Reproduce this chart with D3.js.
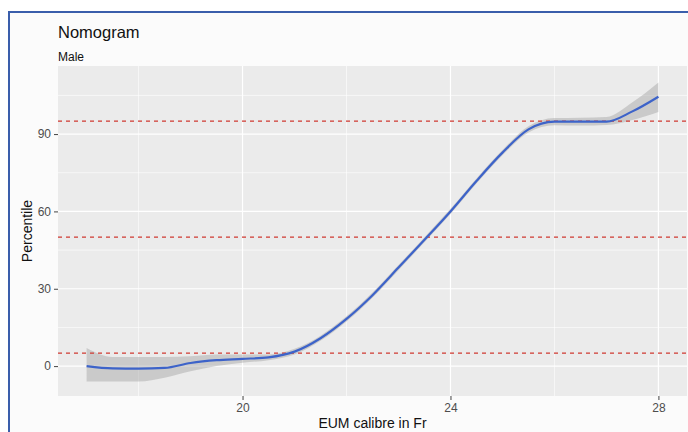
<!DOCTYPE html>
<html>
<head>
<meta charset="utf-8">
<script src="https://cdn.jsdelivr.net/npm/d3@7"></script>
<style>
  body { margin: 0; background: #fff; }
  svg { display: block; font-family: "Liberation Sans", Arial, sans-serif; }
</style>
</head>
<body>
<svg id="chart" width="688" height="432"></svg>
<script>
// catheter calibre (Fr) and loess fit with its confidence band
var calibre = [17, 17.5, 18, 18.5, 19, 19.5, 20, 20.5, 21, 21.5, 22, 22.5, 23, 23.5, 24, 24.5, 25, 25.5, 26, 26.5, 27, 27.5, 28];
var fitted  = [0, -0.9, -1, -0.7, 1.2, 2.3, 2.8, 3.4, 5.6, 10.8, 18.3, 27.5, 38.2, 49, 60, 71.8, 82.8, 91.8, 94.8, 94.8, 94.8, 98.8, 104.5];
var lower   = [-6, -6, -6, -4.5, -2, 0, 1.3, 2.3, 4.5, 9.8, 17.3, 26.5, 37.2, 48, 59, 70.8, 81.8, 90.6, 93.4, 93.3, 93.5, 95.5, 98.6];
var upper   = [7, 3.5, 3.5, 3.5, 3.8, 4.5, 4.5, 4.5, 6.7, 11.8, 19.3, 28.5, 39.2, 50, 61, 72.8, 83.8, 93, 96.2, 96.3, 96.6, 102.3, 110];
var refLines = [5, 50, 95];
var xTicks = [20, 24, 28], xMinor = [18, 22, 26];
var yTicks = [0, 30, 60, 90], yMinor = [15, 45, 75, 105];

var svg = d3.select("#chart");

var panel = {left: 58, top: 66, right: 687, bottom: 396};

var x = d3.scaleLinear().domain([16.45, 28.55]).range([panel.left, panel.right]);
var y = d3.scaleLinear().domain([-11.6, 116.4]).range([panel.bottom, panel.top]);

// figure background with the blue frame of the screenshot
svg.append("rect").attr("x", 9).attr("y", 12).attr("width", 700).attr("height", 440)
  .attr("fill", "#fbfbfb").attr("stroke", "#3a5eab").attr("stroke-width", 2);

svg.append("rect")
  .attr("x", panel.left).attr("y", panel.top)
  .attr("width", panel.right - panel.left).attr("height", panel.bottom - panel.top)
  .attr("fill", "#ebebeb");

var grid = svg.append("g");
grid.selectAll(".xminor").data(xMinor).enter().append("line")
  .attr("x1", d => x(d)).attr("x2", d => x(d))
  .attr("y1", panel.top).attr("y2", panel.bottom)
  .attr("stroke", "#fff").attr("stroke-width", 0.6);
grid.selectAll(".yminor").data(yMinor).enter().append("line")
  .attr("x1", panel.left).attr("x2", panel.right)
  .attr("y1", d => y(d)).attr("y2", d => y(d))
  .attr("stroke", "#fff").attr("stroke-width", 0.6);
grid.selectAll(".xmajor").data(xTicks).enter().append("line")
  .attr("x1", d => x(d)).attr("x2", d => x(d))
  .attr("y1", panel.top).attr("y2", panel.bottom)
  .attr("stroke", "#fff").attr("stroke-width", 1.2);
grid.selectAll(".ymajor").data(yTicks).enter().append("line")
  .attr("x1", panel.left).attr("x2", panel.right)
  .attr("y1", d => y(d)).attr("y2", d => y(d))
  .attr("stroke", "#fff").attr("stroke-width", 1.2);

var data = calibre.map((c, i) => ({x: c, fit: fitted[i], lo: lower[i], hi: upper[i]}));

var band = d3.area()
  .curve(d3.curveMonotoneX)
  .x(d => x(d.x))
  .y0(d => y(d.lo))
  .y1(d => y(d.hi));

var line = d3.line()
  .curve(d3.curveMonotoneX)
  .x(d => x(d.x))
  .y(d => y(d.fit));

svg.append("path").datum(data).attr("d", band)
  .attr("fill", "#999").attr("fill-opacity", 0.4);

svg.selectAll(".ref").data(refLines).enter().append("line")
  .attr("x1", panel.left).attr("x2", panel.right)
  .attr("y1", d => y(d)).attr("y2", d => y(d))
  .attr("stroke", "#d03a32").attr("stroke-width", 1.2)
  .attr("stroke-dasharray", "4,4");

svg.append("path").datum(data).attr("d", line)
  .attr("fill", "none").attr("stroke", "#3d63c9").attr("stroke-width", 2.2);

// axes
var xAxis = svg.append("g")
  .attr("transform", "translate(0," + panel.bottom + ")")
  .call(d3.axisBottom(x).tickValues(xTicks).tickSize(4).tickPadding(3));
var yAxis = svg.append("g")
  .attr("transform", "translate(" + panel.left + ",0)")
  .call(d3.axisLeft(y).tickValues(yTicks).tickSize(4).tickPadding(3));

[xAxis, yAxis].forEach(function(a) {
  a.select(".domain").remove();
  a.selectAll(".tick line").attr("stroke", "#444");
  a.selectAll(".tick text").attr("fill", "#4d4d4d").style("font-size", "12px")
    .style("font-family", "Liberation Sans, Arial, sans-serif");
});

svg.append("text").attr("x", 58).attr("y", 38)
  .style("font-size", "16.5px").attr("fill", "#111").text("Nomogram");
svg.append("text").attr("x", 58).attr("y", 61)
  .style("font-size", "12px").attr("fill", "#111").text("Male");

svg.append("text")
  .attr("x", (panel.left + panel.right) / 2).attr("y", 428)
  .attr("text-anchor", "middle").style("font-size", "14px").attr("fill", "#111")
  .text("EUM calibre in Fr");

svg.append("text")
  .attr("transform", "translate(32," + (panel.top + panel.bottom) / 2 + ") rotate(-90)")
  .attr("text-anchor", "middle").style("font-size", "14px").attr("fill", "#111")
  .text("Percentile");
</script>
</body>
</html>
